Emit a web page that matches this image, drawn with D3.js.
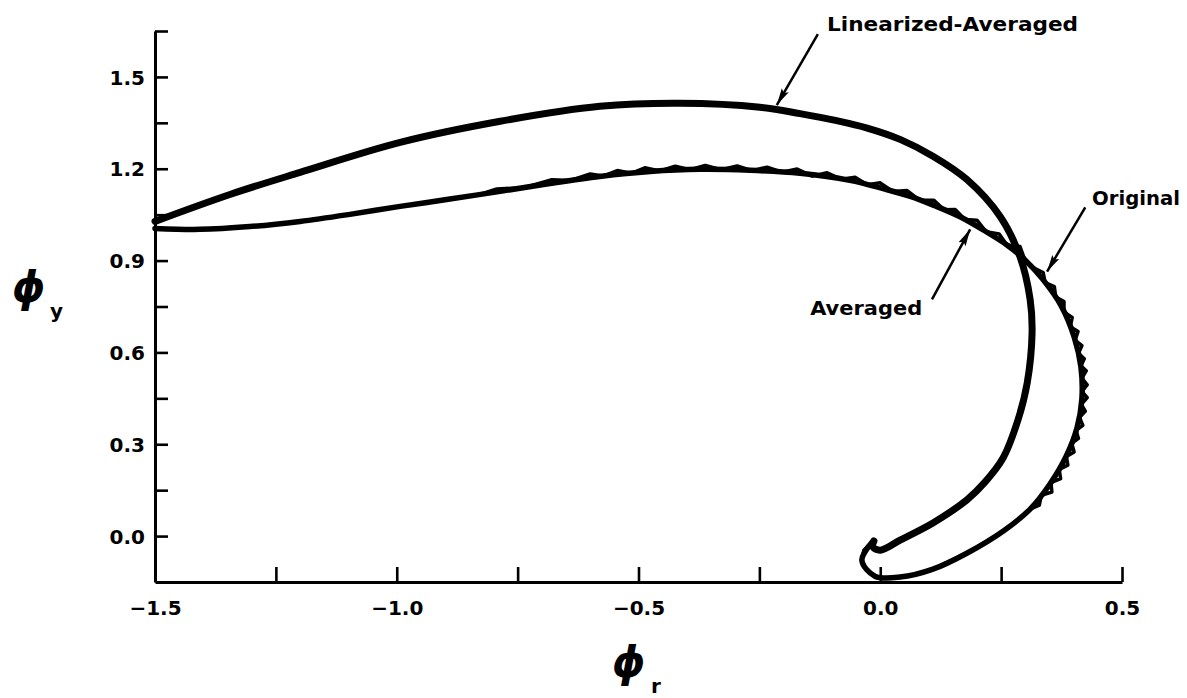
<!DOCTYPE html>
<html><head><meta charset="utf-8">
<script src="https://cdn.jsdelivr.net/npm/d3@7"></script>
<style>body{margin:0;background:#fff}svg{display:block}</style>
</head><body><svg id="c" width="1187" height="698"></svg>
<script>
// ---- data (phi_r, phi_y) ----
const xTicksMajor = [-1.5, -1.0, -0.5, 0.0, 0.5];
const xTicksMinor = [-1.25, -0.75, -0.25, 0.25];
const yTicksMajor = [0.0, 0.3, 0.6, 0.9, 1.2, 1.5];
const yTicksMinor = [0.15, 0.45, 0.75, 1.05, 1.35, 1.65];

const linearizedAveraged = [
[-1.500,1.028],[-1.345,1.116],[-1.200,1.188],[-0.993,1.286],[-0.786,1.355],[-0.580,1.404],
[-0.414,1.414],[-0.249,1.401],[-0.166,1.380],[-0.090,1.357],[-0.027,1.333],[0.041,1.296],[0.109,1.241],
[0.179,1.165],[0.248,1.044],[0.289,0.913],[0.310,0.773],[0.314,0.664],[0.304,0.501],
[0.285,0.380],[0.254,0.255],[0.217,0.177],[0.179,0.118],[0.109,0.043],[0.041,-0.013],
[0.000,-0.046],[-0.015,-0.036],[-0.013,-0.016]];

const averaged = [
[-1.500,1.005],[-1.407,1.002],[-1.304,1.011],[-1.200,1.028],[-1.097,1.051],[-0.993,1.077],
[-0.890,1.101],[-0.786,1.126],[-0.683,1.152],[-0.580,1.175],[-0.476,1.191],[-0.373,1.198],
[-0.269,1.195],[-0.166,1.185],[-0.063,1.162],[0.006,1.135],[0.062,1.110],[0.113,1.079],
[0.165,1.043],[0.213,1.000],[0.262,0.951],[0.299,0.903],[0.335,0.841],[0.374,0.753],
[0.401,0.651],[0.415,0.553],[0.417,0.448],[0.407,0.354],[0.384,0.259],[0.351,0.170],
[0.310,0.088],[0.254,0.016],[0.179,-0.056],[0.109,-0.108],[0.041,-0.134],[-0.011,-0.131],
[-0.038,-0.079],[-0.015,-0.016]];

const original = [
[-1.500,1.005],[-1.407,1.002],[-1.304,1.011],[-1.200,1.028],[-1.097,1.051],[-0.993,1.077],
[-0.890,1.101],[-0.828,1.116],[-0.793,1.134],[-0.737,1.138],[-0.679,1.164],[-0.640,1.162],
[-0.600,1.183],[-0.573,1.176],[-0.544,1.194],[-0.515,1.185],[-0.487,1.203],[-0.456,1.193],
[-0.424,1.208],[-0.393,1.197],[-0.362,1.211],[-0.329,1.197],[-0.296,1.209],[-0.265,1.194],
[-0.234,1.205],[-0.203,1.189],[-0.172,1.199],[-0.141,1.176],[-0.110,1.187],[-0.081,1.166],
[-0.052,1.172],[-0.027,1.148],[0.000,1.154],[0.026,1.126],[0.055,1.129],[0.082,1.097],
[0.111,1.097],[0.132,1.066],[0.155,1.067],[0.175,1.034],[0.200,1.032],[0.219,0.994],
[0.246,0.987],[0.262,0.951],[0.289,0.946],[0.299,0.903],[0.316,0.877],
[0.337,0.861],[0.341,0.828],[0.360,0.815],[0.363,0.781],[0.380,0.766],[0.380,0.732],
[0.397,0.714],[0.393,0.684],[0.409,0.668],[0.403,0.640],[0.417,0.622],[0.410,0.597],
[0.422,0.579],[0.415,0.556],[0.426,0.540],[0.417,0.516],[0.428,0.494],[0.417,0.473],
[0.428,0.452],[0.416,0.430],[0.424,0.408],[0.412,0.388],[0.419,0.362],[0.405,0.345],
[0.410,0.319],[0.396,0.303],[0.401,0.275],[0.385,0.260],[0.388,0.232],[0.370,0.218],
[0.373,0.188],[0.353,0.175],[0.355,0.144],[0.333,0.133],[0.329,0.101],[0.310,0.088],
[0.285,0.052],[0.254,0.016],[0.221,-0.016],[0.179,-0.056],[0.144,-0.082],[0.109,-0.108],
[0.076,-0.124],[0.041,-0.134],[0.010,-0.137],[-0.011,-0.131],[-0.029,-0.108],[-0.038,-0.079],
[-0.034,-0.046],[-0.015,-0.016]];

const annoLabels = ["Linearized-Averaged", "Original", "Averaged"];
const annoTextAt = [[-0.110,1.650],[0.438,1.083],[-0.145,0.723]];
const annoTextLen = [251, 88, 112];
const arrowFrom = [[-0.129,1.640],[0.424,1.074],[0.107,0.773]];
const arrowTo   = [[-0.214,1.408],[0.345,0.864],[0.186,1.002]];

// ---- chart ----
const svg = d3.select("#c");
svg.append("rect").attr("width",1187).attr("height",698).attr("fill","#fff");
const x = d3.scaleLinear().domain([-1.5,0.5]).range([155,1122]);
const y = d3.scaleLinear().domain([-0.15,1.65]).range([582,31]);
const FONT = "'DejaVu Sans', sans-serif";
const fmt = d3.format(".1f");

svg.append("defs").append("marker")
  .attr("id","ah").attr("markerUnits","userSpaceOnUse")
  .attr("markerWidth",18).attr("markerHeight",10)
  .attr("refX",17).attr("refY",5).attr("orient","auto")
  .append("path").attr("d","M0,1 L17,5 L0,9 L3,5 Z").attr("fill","#000");

// axes
const yAxis = d3.axisLeft(y).tickValues(yTicksMajor.concat(yTicksMinor))
  .tickSizeInner(-13).tickSizeOuter(0).tickPadding(10)
  .tickFormat(d => yTicksMajor.includes(d) ? fmt(d) : "");
const xAxis = d3.axisBottom(x).tickValues(xTicksMajor.concat(xTicksMinor))
  .tickSizeInner(-15).tickSizeOuter(0).tickPadding(19)
  .tickFormat(d => xTicksMajor.includes(d) ? fmt(d) : "");

const gy = svg.append("g").attr("transform",`translate(${x(-1.5)},0)`).call(yAxis);
const gx = svg.append("g").attr("transform",`translate(0,${y(-0.15)})`).call(xAxis);
[gx, gy].forEach(g => {
  g.select(".domain").attr("stroke","#000").attr("stroke-width",3);
  g.selectAll(".tick line").attr("stroke","#000").attr("stroke-width",2.6);
  g.selectAll(".tick text").attr("fill","#000").attr("font-family",FONT)
    .attr("font-weight","bold").attr("font-size",20);
});
gy.selectAll(".tick text").attr("dy","0.36em");

// curves
svg.append("path").datum(averaged)
  .attr("d", d3.line().x(d => x(d[0])).y(d => y(d[1])).curve(d3.curveCatmullRom.alpha(0.5)))
  .attr("fill","none").attr("stroke","#000").attr("stroke-width",5.5)
  .attr("stroke-linejoin","round").attr("stroke-linecap","round");
svg.append("path").datum(original)
  .attr("d", d3.line().x(d => x(d[0])).y(d => y(d[1])).curve(d3.curveLinear))
  .attr("fill","none").attr("stroke","#000").attr("stroke-width",3.5)
  .attr("stroke-linejoin","round").attr("stroke-linecap","round");
svg.append("path").datum(linearizedAveraged)
  .attr("d", d3.line().x(d => x(d[0])).y(d => y(d[1])).curve(d3.curveCatmullRom.alpha(0.5)))
  .attr("fill","none").attr("stroke","#000").attr("stroke-width",7)
  .attr("stroke-linejoin","round").attr("stroke-linecap","round");

// annotations
annoLabels.forEach((t,i) => {
  svg.append("text").attr("x", x(annoTextAt[i][0])).attr("y", y(annoTextAt[i][1]))
    .attr("font-family",FONT).attr("font-weight","bold").attr("font-size",20)
    .attr("textLength", annoTextLen[i]).attr("lengthAdjust","spacingAndGlyphs")
    .text(t);
  svg.append("line")
    .attr("x1", x(arrowFrom[i][0])).attr("y1", y(arrowFrom[i][1]))
    .attr("x2", x(arrowTo[i][0])).attr("y2", y(arrowTo[i][1]))
    .attr("stroke","#000").attr("stroke-width",2.5).attr("marker-end","url(#ah)");
});

// axis titles
svg.append("text").attr("x",12).attr("y",302).attr("font-family",FONT)
  .attr("font-size",42).attr("font-weight","bold").attr("font-style","italic").text("ϕ");
svg.append("text").attr("x",50).attr("y",318).attr("font-family",FONT)
  .attr("font-size",20).attr("font-weight","bold").text("y");
svg.append("text").attr("x",612).attr("y",677).attr("font-family",FONT)
  .attr("font-size",42).attr("font-weight","bold").attr("font-style","italic").text("ϕ");
svg.append("text").attr("x",651).attr("y",693).attr("font-family",FONT)
  .attr("font-size",20).attr("font-weight","bold").text("r");
</script></body></html>
